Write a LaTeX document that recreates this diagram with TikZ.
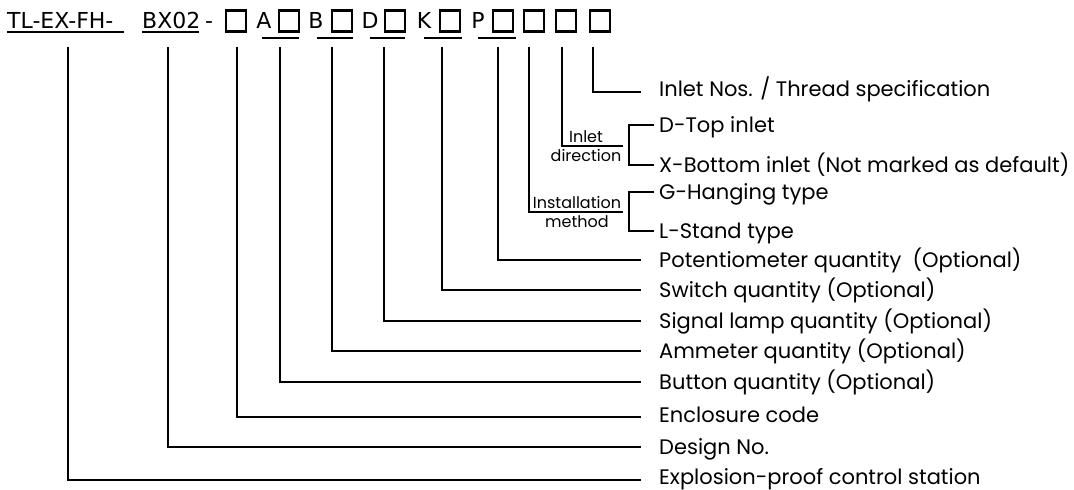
\documentclass[tikz,border=0pt]{standalone}
\usepackage{fontspec}
\setmainfont{Poppins}
\newfontfamily\codefont{DejaVu Sans}
\usepackage{xcolor}

\begin{document}
\begin{tikzpicture}[x=1pt,y=-1pt,
  lead/.style={line width=1.8pt},
  slot/.style={draw,line width=2.3pt,minimum width=20pt,minimum height=21pt,inner sep=0pt},
  code/.style={font=\codefont\fontsize{22}{26}\selectfont,inner sep=0pt,anchor=base},
  desc/.style={font=\fontsize{21}{24}\selectfont,anchor=west,inner sep=0pt,text height=15pt,text depth=0pt},
  small/.style={font=\fontsize{16}{18}\selectfont,inner sep=0pt}]
  \useasboundingbox (0,0) rectangle (1074,490);
  % model code
  \node[code,anchor=base west] (pre) at (7,28) {TL-EX-FH-};
  \node[code,anchor=base west] (dsn) at (142,28) {BX02};
  \node[code] (dash) at (209,28) {-};
  \node[code] (la) at (264,28) {A}; \node[code] (lb) at (316,28) {B};
  \node[code] (ld) at (370,28) {D}; \node[code] (lk) at (424,28) {K};
  \node[code] (lp) at (478,28) {P};
  \node[slot] (b1) at (236,21) {}; \node[slot] (b2) at (289,21) {};
  \node[slot] (b3) at (342,21) {}; \node[slot] (b4) at (395,21) {};
  \node[slot] (b5) at (450,21) {}; \node[slot] (b6) at (503,21) {};
  \node[slot] (b7) at (534,21) {}; \node[slot] (b8) at (566,21) {};
  \node[slot] (b9) at (600,21) {};
  \draw[lead] (7,32)--(124,32); \draw[lead] (142,32)--(199,32);
  \draw[lead] (262,38)--(299,38); \draw[lead] (317,38)--(353,38);
  \draw[lead] (370,38)--(405,38); \draw[lead] (424,38)--(462,38);
  \draw[lead] (478,38)--(516,38);
  % leader tops
  \coordinate (t1) at (68,47);  \coordinate (t2) at (168,47);
  \coordinate (t3) at (237,47); \coordinate (t4) at (280,47);
  \coordinate (t5) at (332,47); \coordinate (t6) at (384,47);
  \coordinate (t7) at (442,47); \coordinate (t8) at (498,47);
  \coordinate (t9) at (529,47); \coordinate (t10) at (562,47);
  \coordinate (t11) at (593,47);
  % descriptions
  \node[desc] (d11) at (659,89) {Inlet Nos. / Thread specification};
  \node[desc] (dtop) at (659,125) {D-Top inlet};
  \node[desc] (dbot) at (659,165) {X-Bottom inlet (Not marked as default)};
  \node[desc] (ghang) at (659,192) {G-Hanging type};
  \node[desc] (lstand) at (659,231) {L-Stand type};
  \node[desc] (d8) at (659,260) {Potentiometer quantity \ (Optional)};
  \node[desc] (d7) at (659,290) {Switch quantity (Optional)};
  \node[desc] (d6) at (659,321) {Signal lamp quantity (Optional)};
  \node[desc] (d5) at (659,351) {Ammeter quantity (Optional)};
  \node[desc] (d4) at (659,382) {Button quantity (Optional)};
  \node[desc] (d3) at (659,415) {Enclosure code};
  \node[desc] (d2) at (659,447) {Design No.};
  \node[desc] (d1) at (659,477) {Explosion-proof control station};
  % leaders
  \draw[lead] (t1) |- ([xshift=-18pt,yshift=-3pt]d1.west);
  \draw[lead] (t2) |- ([xshift=-18pt]d2.west);
  \draw[lead] (t3) |- ([xshift=-18pt,yshift=-2pt]d3.west);
  \draw[lead] (t4) |- ([xshift=-18pt]d4.west);
  \draw[lead] (t5) |- ([xshift=-18pt]d5.west);
  \draw[lead] (t6) |- ([xshift=-18pt]d6.west);
  \draw[lead] (t7) |- ([xshift=-18pt]d7.west);
  \draw[lead] (t8) |- ([xshift=-18pt]d8.west);
  \draw[lead] (t11) |- ([xshift=-18pt,yshift=-3pt]d11.west);
  % inlet direction / installation method
  \coordinate (c10) at (623,146); \coordinate (c9) at (623,212);
  \draw[lead] (t10) |- (c10);
  \draw[lead] (t9) |- (c9);
  \node[small,above=3pt] (idir1) at (586,146) {Inlet};
  \node[small,below=3pt] (idir2) at (586,146) {direction};
  \node[small,above=3pt] (inst1) at (577,212) {Installation};
  \node[small,below=3pt] (inst2) at (577,212) {method};
  \draw[lead] ([xshift=-5pt]dtop.west) -| (629,165) -- ([xshift=-5pt]dbot.west);
  \draw[lead] ([xshift=-5pt]ghang.west) -| (629,231) -- ([xshift=-5pt]lstand.west);
\end{tikzpicture}
\end{document}
